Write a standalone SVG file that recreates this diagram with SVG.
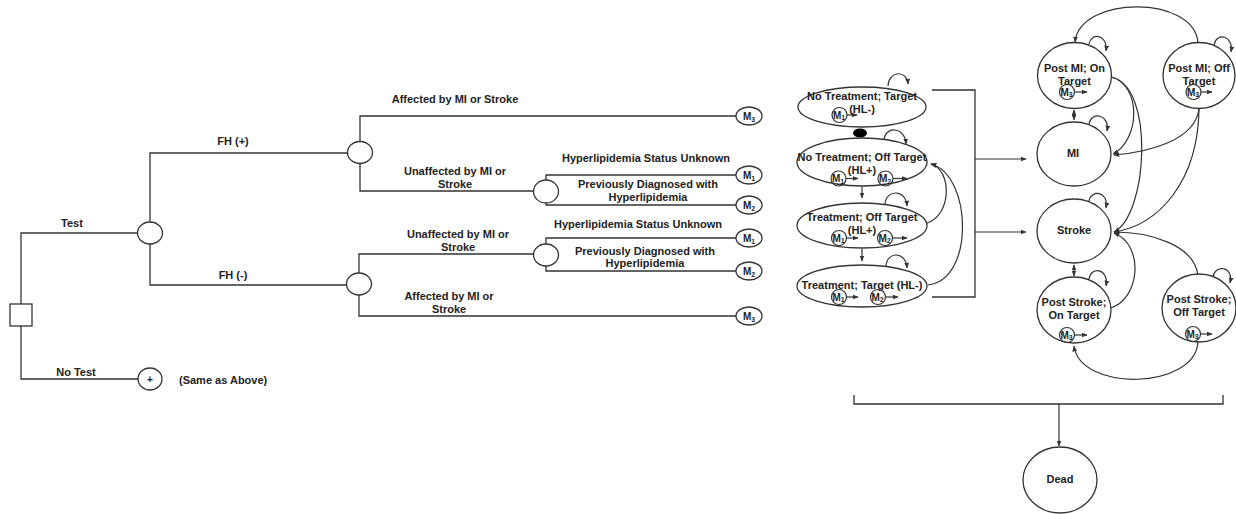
<svg xmlns="http://www.w3.org/2000/svg" width="1236" height="514" viewBox="0 0 1236 514">
<defs>
<marker id="ah" viewBox="0 0 10 10" refX="9" refY="5" markerWidth="6" markerHeight="6" orient="auto-start-reverse" markerUnits="userSpaceOnUse"><path d="M0,1 L10,5 L0,9 z" fill="#333"/></marker>
<style>
.ln{fill:none;stroke:#333;stroke-width:1.3}
.ar{fill:none;stroke:#333;stroke-width:1.2;marker-end:url(#ah)}
.ar2{fill:none;stroke:#333;stroke-width:1.2;marker-end:url(#ah);marker-start:url(#ah)}
.nd{fill:#fff;stroke:#333;stroke-width:1.3}
.sm{fill:none;stroke:#333;stroke-width:1.2}
.t{font-family:"Liberation Sans",Arial,sans-serif;font-weight:bold;font-size:11px;fill:#222}
.c{text-anchor:middle}
.m{font-family:"Liberation Sans",Arial,sans-serif;font-weight:bold;font-size:10px;fill:#222;text-anchor:middle}
.ms{font-family:"Liberation Sans",Arial,sans-serif;font-weight:bold;font-size:10px;fill:#222;text-anchor:middle}
</style>
</defs>
<rect width="1236" height="514" fill="#fff"/>

<g id="connectors">
<path class="ln" d="M21,304 V233 H137.5"/>
<path class="ln" d="M21,326 V379 H138"/>
<path class="ln" d="M150,222 V153 H347"/>
<path class="ln" d="M150,244 V285 H347"/>
<path class="ln" d="M360,141.5 V116 H736"/>
<path class="ln" d="M360,163.5 V191 H533.5"/>
<path class="ln" d="M546,180 V175 H736"/>
<path class="ln" d="M546,203 V205 H736"/>
<path class="ln" d="M359,273 V254 H533.5"/>
<path class="ln" d="M359,295 V316 H736"/>
<path class="ln" d="M546,244 V238 H736"/>
<path class="ln" d="M546,266 V271 H736"/>
<path class="ar" d="M888,86 C889,70 907,70 908,84"/>
<path class="ar" d="M884,140 C885,126 905,126 906,144"/>
<path class="ar" d="M885,204 C886,189 906,189 907,206"/>
<path class="ar" d="M886,266 C887,251 906,251 907,268"/>
<path class="ar" d="M862,187 V198"/>
<path class="ar" d="M862,249 V261"/>
<path class="ar" d="M927,223 C952,215 952,170 931,164"/>
<path class="ar" d="M928,285 C975,280 972,175 931,164"/>
<path class="ln" d="M932,90 H975 V297 H932"/>
<path class="ar" d="M975,159 H1026"/>
<path class="ar" d="M975,232 H1026"/>
<path class="ar" d="M1198,43 C1195,-5 1080,-5 1075,42"/>
<path class="ar" d="M1198,342 C1195,390 1080,392 1074,346"/>
<path class="ar" d="M1089,44 C1091,32 1108,34 1106,51"/>
<path class="ar" d="M1214,45 C1216,32 1234,35 1231,52"/>
<path class="ar" d="M1089,124 C1091,111 1110,114 1107,131"/>
<path class="ar" d="M1089,201 C1091,189 1109,191 1106,208"/>
<path class="ar" d="M1089,279 C1091,266 1109,268 1106,286"/>
<path class="ar" d="M1213,277 C1215,264 1234,266 1230,283"/>
<path class="ar2" d="M1074,110 V120"/>
<path class="ar2" d="M1074,265 V276"/>
<path class="ar" d="M1111,77 C1142,85 1140,140 1113,154"/>
<path class="ar" d="M1111,77 C1155,85 1148,215 1114,232"/>
<path class="ar" d="M1199,109 C1195,140 1150,152 1114,155"/>
<path class="ar" d="M1199,109 C1198,180 1160,225 1114,232"/>
<path class="ar" d="M1110,308 C1140,300 1145,245 1114,233"/>
<path class="ar" d="M1198,276 C1195,245 1150,232 1114,232"/>
<path class="ln" d="M854,395 V404 H1223 V395"/>
<path class="ar" d="M1059,404 V446"/>
</g>

<g id="tree-labels">
<text class="t c" x="72" y="227">Test</text>
<text class="t c" x="76" y="376">No Test</text>
<text class="t" x="179" y="384">(Same as Above)</text>
<text class="t c" x="233" y="145">FH (+)</text>
<text class="t c" x="233" y="279">FH (-)</text>
<text class="t c" x="455" y="103">Affected by MI or Stroke</text>
<text class="t c" x="455" y="175">Unaffected by MI or</text>
<text class="t c" x="455" y="187.5">Stroke</text>
<text class="t c" x="646" y="162">Hyperlipidemia Status Unknown</text>
<text class="t c" x="648" y="188">Previously Diagnosed with</text>
<text class="t c" x="648" y="201">Hyperlipidemia</text>
<text class="t c" x="638" y="228">Hyperlipidemia Status Unknown</text>
<text class="t c" x="458" y="238">Unaffected by MI or</text>
<text class="t c" x="458" y="251">Stroke</text>
<text class="t c" x="645" y="255">Previously Diagnosed with</text>
<text class="t c" x="645" y="267">Hyperlipidemia</text>
<text class="t c" x="449" y="300">Affected by MI or</text>
<text class="t c" x="449" y="313">Stroke</text>
</g>

<g id="decision"><rect class="nd" x="10" y="304" width="22" height="22"/></g>
<g id="chance-test"><ellipse class="nd" cx="150" cy="233" rx="12.5" ry="11"/></g>
<g id="chance-notest"><ellipse class="nd" cx="150" cy="379" rx="12" ry="11"/><text class="t c" x="150" y="383" style="font-size:10px">+</text></g>
<g id="chance-fhpos"><ellipse class="nd" cx="360" cy="152.5" rx="12.5" ry="11"/></g>
<g id="chance-fhpos-unaff"><ellipse class="nd" cx="546" cy="191.5" rx="12.5" ry="11.5"/></g>
<g id="chance-fhneg"><ellipse class="nd" cx="359" cy="284" rx="12.5" ry="11"/></g>
<g id="chance-fhneg-unaff"><ellipse class="nd" cx="546" cy="255" rx="12.5" ry="11"/></g>

<g id="term-1"><ellipse class="nd" cx="749" cy="116" rx="13" ry="9"/><text class="m" x="749" y="119.5">M<tspan dy="2" font-size="7">3</tspan></text></g>
<g id="term-2"><ellipse class="nd" cx="749" cy="175" rx="13" ry="9"/><text class="m" x="749" y="178.5">M<tspan dy="2" font-size="7">1</tspan></text></g>
<g id="term-3"><ellipse class="nd" cx="749" cy="205" rx="13" ry="9"/><text class="m" x="749" y="208.5">M<tspan dy="2" font-size="7">2</tspan></text></g>
<g id="term-4"><ellipse class="nd" cx="749" cy="238" rx="13" ry="9"/><text class="m" x="749" y="241.5">M<tspan dy="2" font-size="7">1</tspan></text></g>
<g id="term-5"><ellipse class="nd" cx="749" cy="271" rx="13" ry="9"/><text class="m" x="749" y="274.5">M<tspan dy="2" font-size="7">2</tspan></text></g>
<g id="term-6"><ellipse class="nd" cx="749" cy="316" rx="13" ry="9"/><text class="m" x="749" y="319.5">M<tspan dy="2" font-size="7">3</tspan></text></g>

<g id="state-nt-target">
<ellipse class="nd" cx="862" cy="107" rx="64" ry="20"/>
<text class="t c" x="862" y="100">No Treatment; Target</text>
<text class="t c" x="862" y="112.5">(HL-)</text>
<circle class="sm" cx="839.5" cy="115" r="7.5"/><text class="ms" x="839" y="118.5">M<tspan dy="1.5" font-size="7">1</tspan></text>
<path class="ar" d="M847,115 H857"/>
</g>
<g id="blob"><ellipse cx="860" cy="133" rx="7" ry="4.5" fill="#000"/></g>
<g id="state-nt-off">
<ellipse class="nd" cx="862" cy="162" rx="65" ry="24"/>
<text class="t c" x="862" y="161">No Treatment; Off Target</text>
<text class="t c" x="862" y="173.5">(HL+)</text>
<circle class="sm" cx="838.5" cy="178.5" r="7.5"/><text class="ms" x="838" y="182">M<tspan dy="1.5" font-size="7">1</tspan></text>
<path class="ar" d="M846,178.5 H858"/>
<circle class="sm" cx="885.5" cy="178.5" r="7.5"/><text class="ms" x="885" y="182">M<tspan dy="1.5" font-size="7">2</tspan></text>
<path class="ar" d="M893,178.5 H907"/>
</g>
<g id="state-t-off">
<ellipse class="nd" cx="862" cy="225.5" rx="65" ry="22.5"/>
<text class="t c" x="862" y="221">Treatment; Off Target</text>
<text class="t c" x="862" y="234">(HL+)</text>
<circle class="sm" cx="839" cy="238" r="7.5"/><text class="ms" x="838.5" y="241.5">M<tspan dy="1.5" font-size="7">1</tspan></text>
<path class="ar" d="M846.5,238 H858"/>
<circle class="sm" cx="885" cy="238" r="7.5"/><text class="ms" x="884.5" y="241.5">M<tspan dy="1.5" font-size="7">2</tspan></text>
<path class="ar" d="M892.5,238 H907"/>
</g>
<g id="state-t-target">
<ellipse class="nd" cx="862" cy="286" rx="65" ry="21"/>
<text class="t c" x="862" y="289">Treatment; Target (HL-)</text>
<circle class="sm" cx="839" cy="297" r="7.5"/><text class="ms" x="838.5" y="300.5">M<tspan dy="1.5" font-size="7">1</tspan></text>
<path class="ar" d="M846.5,297 H858"/>
<circle class="sm" cx="878" cy="297" r="7.5"/><text class="ms" x="877.5" y="300.5">M<tspan dy="1.5" font-size="7">2</tspan></text>
<path class="ar" d="M885.5,297 H898"/>
</g>

<g id="state-postmi-on">
<ellipse class="nd" cx="1074.5" cy="75.5" rx="37" ry="33"/>
<text class="t c" x="1074.5" y="72">Post MI; On</text>
<text class="t c" x="1074.5" y="84.5">Target</text>
<circle class="sm" cx="1067" cy="92" r="7.5"/><text class="ms" x="1066.5" y="95.5">M<tspan dy="1.5" font-size="7">3</tspan></text>
<path class="ar" d="M1074.5,92 H1087"/>
</g>
<g id="state-postmi-off">
<ellipse class="nd" cx="1199" cy="75.5" rx="36" ry="33"/>
<text class="t c" x="1199" y="72">Post MI; Off</text>
<text class="t c" x="1199" y="84.5">Target</text>
<circle class="sm" cx="1193.5" cy="92" r="7.5"/><text class="ms" x="1193" y="95.5">M<tspan dy="1.5" font-size="7">3</tspan></text>
<path class="ar" d="M1201,92 H1212"/>
</g>
<g id="state-mi">
<ellipse class="nd" cx="1074" cy="154" rx="37" ry="32"/>
<text class="t c" x="1073" y="157">MI</text>
</g>
<g id="state-stroke">
<ellipse class="nd" cx="1074" cy="231" rx="37" ry="32"/>
<text class="t c" x="1074" y="234">Stroke</text>
</g>
<g id="state-poststroke-on">
<ellipse class="nd" cx="1074" cy="310" rx="37" ry="33"/>
<text class="t c" x="1074" y="306">Post Stroke;</text>
<text class="t c" x="1074" y="319">On Target</text>
<circle class="sm" cx="1067" cy="335" r="7.5"/><text class="ms" x="1066.5" y="338.5">M<tspan dy="1.5" font-size="7">3</tspan></text>
<path class="ar" d="M1074.5,335 H1087"/>
</g>
<g id="state-poststroke-off">
<ellipse class="nd" cx="1199" cy="308" rx="37" ry="34"/>
<text class="t c" x="1199" y="303">Post Stroke;</text>
<text class="t c" x="1199" y="316">Off Target</text>
<circle class="sm" cx="1193" cy="334" r="7.5"/><text class="ms" x="1192.5" y="337.5">M<tspan dy="1.5" font-size="7">3</tspan></text>
<path class="ar" d="M1200.5,334 H1212"/>
</g>
<g id="state-dead">
<ellipse class="nd" cx="1060" cy="480" rx="37" ry="33"/>
<text class="t c" x="1060" y="483">Dead</text>
</g>
</svg>
